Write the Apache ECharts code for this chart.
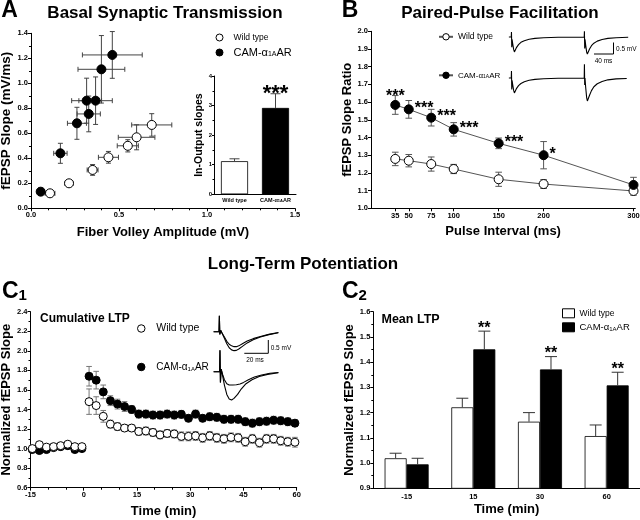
<!DOCTYPE html>
<html><head><meta charset="utf-8">
<script src="https://cdn.jsdelivr.net/npm/echarts@6/dist/echarts.min.js"></script>
<style>html,body{margin:0;padding:0;background:#fff}#c{width:640px;height:520px}</style>
</head><body><div id="c"></div><script>
// ---------- DATA ----------
// Panel A: basal synaptic transmission (input-output)
const aWtX = [0.108, 0.216, 0.35, 0.44, 0.55, 0.60, 0.686];
const aWtY = [0.12, 0.20, 0.307, 0.408, 0.50, 0.568, 0.667];
const aWtXErr = [0.028, 0.023, 0.031, 0.057, 0.06, 0.104, 0.114];
const aWtYErr = [0.013, 0.025, 0.043, 0.047, 0.049, 0.1, 0.09];
const aCamX = [0.055, 0.167, 0.261, 0.328, 0.316, 0.367, 0.40, 0.462];
const aCamY = [0.133, 0.44, 0.68, 0.755, 0.861, 0.861, 1.112, 1.227];
const aCamXErr = [0.02, 0.038, 0.054, 0.066, 0.085, 0.095, 0.133, 0.17];
const aCamYErr = [0.03, 0.08, 0.128, 0.143, 0.18, 0.19, 0.27, 0.187];
// Panel A inset: input-output slopes
const insetCats = ['Wild type', 'CAM'];
const insetVals = [1.12, 2.92];
const insetErr = [0.08, 0.48];
const insetStars = ['', '***'];
// Panel B: paired-pulse facilitation
const bIntervals = [35, 50, 75, 100, 150, 200, 300];
const bWt = [1.279, 1.269, 1.25, 1.222, 1.164, 1.137, 1.098];
const bWtErr = [0.038, 0.035, 0.04, 0.026, 0.04, 0.025, 0.024];
const bCam = [1.584, 1.559, 1.512, 1.446, 1.367, 1.30, 1.132];
const bCamErr = [0.053, 0.05, 0.047, 0.038, 0.03, 0.077, 0.043];
const bStars = ['***', '***', '***', '***', '***', '*', ''];
// Panel B example traces (time ms, mV)
const bTraceWt = [[8,0],[13,0],[13.4,0.22],[14,-0.45],[14.6,-0.1],[16,-0.3],[18,-0.55],[19.5,-0.65],[21,-0.6],[24,-0.45],[28,-0.33],[33,-0.23],[40,-0.16],[50,-0.1],[62,-0.06],[80,-0.03],[110,-0.01],[164,0],[164.4,0.25],[165,-0.5],[165.6,-0.1],[167,-0.35],[169,-0.65],[170.5,-0.74],[172,-0.7],[175,-0.52],[179,-0.38],[184,-0.27],[191,-0.18],[201,-0.11],[213,-0.06],[230,-0.03],[255,-0.01]];
const bTraceCam = [[8,0],[13,0],[13.4,0.3],[14,-0.5],[14.6,-0.1],[16,-0.3],[18,-0.55],[19.5,-0.65],[21,-0.6],[24,-0.45],[28,-0.33],[33,-0.24],[40,-0.16],[50,-0.1],[62,-0.06],[80,-0.03],[110,-0.01],[164,0],[164.4,0.6],[165,-0.3],[165.6,0],[167,-0.4],[169,-0.85],[170.5,-1.0],[172,-0.96],[175,-0.75],[179,-0.55],[184,-0.38],[191,-0.25],[201,-0.15],[213,-0.08],[230,-0.04],[252,-0.02]];
// Panel C1: cumulative LTP
const c1Time = [-14.5,-12.5,-10.5,-8.5,-6.5,-4.5,-2.5,-0.5,1.5,3.5,5.5,7.5,9.5,11.5,13.5,15.5,17.5,19.5,21.5,23.5,25.5,27.5,29.5,31.5,33.5,35.5,37.5,39.5,41.5,43.5,45.5,47.5,49.5,51.5,53.5,55.5,57.5,59.5];
const c1Wt = [1.0,1.04,1.015,1.02,1.03,1.045,1.02,1.02,1.48,1.44,1.33,1.25,1.225,1.21,1.21,1.175,1.18,1.165,1.14,1.155,1.15,1.125,1.125,1.13,1.11,1.13,1.11,1.10,1.115,1.11,1.07,1.10,1.06,1.10,1.10,1.08,1.07,1.065];
const c1WtErr = [0.01,0.01,0.01,0.01,0.01,0.01,0.01,0.01,0.13,0.09,0.06,0.04,0.04,0.035,0.035,0.04,0.04,0.04,0.04,0.04,0.04,0.045,0.045,0.045,0.045,0.045,0.045,0.045,0.045,0.045,0.045,0.045,0.045,0.045,0.045,0.045,0.045,0.05];
const c1Cam = [0.99,0.98,0.99,1.01,1.02,1.03,0.99,1.0,1.74,1.70,1.58,1.49,1.455,1.43,1.40,1.353,1.353,1.343,1.343,1.353,1.343,1.35,1.31,1.353,1.31,1.326,1.32,1.30,1.30,1.30,1.275,1.26,1.275,1.28,1.29,1.285,1.275,1.26];
const c1CamErr = [0.01,0.01,0.01,0.01,0.01,0.01,0.01,0.01,0.1,0.09,0.07,0.05,0.05,0.05,0.04,0.04,0.04,0.04,0.04,0.04,0.04,0.04,0.035,0.04,0.035,0.04,0.04,0.04,0.04,0.04,0.04,0.04,0.04,0.04,0.04,0.04,0.04,0.035];
// Panel C1 example traces (time ms, mV): baseline and post-LTP
const c1TraceWtPre = [[3,0],[7.5,0],[7.8,0.6],[8.2,-0.1],[9,0.05],[10,-0.05],[12,-0.2],[14,-0.36],[16,-0.47],[18,-0.53],[20,-0.56],[22,-0.56],[24,-0.53],[27,-0.45],[31,-0.35],[36,-0.26],[42,-0.18],[49,-0.1],[57,-0.03]];
const c1TraceWtPost = [[3,0],[7.5,0],[7.8,0.6],[8.2,-0.1],[9,0.05],[10,-0.05],[12,-0.25],[14,-0.45],[16,-0.6],[18,-0.68],[20,-0.71],[22,-0.7],[24,-0.65],[27,-0.55],[31,-0.42],[36,-0.3],[42,-0.2],[49,-0.11],[57,-0.04]];
const c1TraceCamPre = [[3,0],[8,0],[8.3,0.8],[8.7,-0.4],[9.3,0.1],[10.5,-0.1],[12,-0.3],[14,-0.45],[16,-0.5],[19,-0.5],[22,-0.49],[25,-0.46],[28,-0.4],[32,-0.3],[37,-0.2],[43,-0.12],[50,-0.06],[57,-0.03]];
const c1TraceCamPost = [[3,0],[8,0],[8.3,0.8],[8.7,-0.4],[9.3,0.1],[10.5,-0.15],[12,-0.5],[14,-0.85],[16,-1.02],[18,-1.06],[20,-1.0],[23,-0.85],[26,-0.65],[30,-0.45],[35,-0.3],[41,-0.18],[48,-0.1],[57,-0.04]];
// Panel C2: mean LTP
const c2Cats = ['-15', '15', '30', '60'];
const c2Wt = [1.019, 1.221, 1.164, 1.107];
const c2WtErr = [0.02, 0.036, 0.036, 0.044];
const c2Cam = [0.995, 1.451, 1.371, 1.308];
const c2CamErr = [0.024, 0.072, 0.051, 0.052];
const c2Stars = ['', '**', '**', '**'];

// ---------- HELPERS ----------
const FF = "'Liberation Sans', Arial, Helvetica, sans-serif";
const camRich = 'CAM-α{s|1A}AR';
function legendFmt(n){ return n.endsWith('CAM') ? camRich : 'Wild type'; }

function valAxis(grid, o){
  return Object.assign({
    type:'value', gridIndex:grid,
    axisLine:{show:true, onZero:false, lineStyle:{color:'#000', width:1}},
    axisTick:{show:true, length:3, lineStyle:{color:'#000', width:1}},
    minorTick:{show:false},
    splitLine:{show:false},
    axisLabel:{color:'#000', fontSize:7.5, fontWeight:'bold', fontFamily:FF, margin:3},
    nameLocation:'middle',
    nameTextStyle:{color:'#000', fontSize:13, fontWeight:'bold', fontFamily:FF}
  }, o);
}
function hiddenAxis(grid, min, max){ return {type:'value', gridIndex:grid, min, max, show:false}; }

function xyErr(grid, xs, ys, xe, ye, color, cap, z){
  return {
    type:'custom', xAxisIndex:grid, yAxisIndex:grid, z:z||1, silent:true,
    data: xs.map((x,i)=>[x, ys[i], xe ? xe[i] : 0, ye ? ye[i] : 0]),
    renderItem:(p, api)=>{
      const x=api.value(0), y=api.value(1), ex=api.value(2), ey=api.value(3);
      const st={stroke:color, lineWidth:1}; const ch=[];
      if (ey>0){
        const a=api.coord([x,y+ey]), b=api.coord([x,y-ey]);
        ch.push({type:'line', shape:{x1:a[0],y1:a[1],x2:b[0],y2:b[1]}, style:st});
        ch.push({type:'line', shape:{x1:a[0]-cap,y1:a[1],x2:a[0]+cap,y2:a[1]}, style:st});
        ch.push({type:'line', shape:{x1:b[0]-cap,y1:b[1],x2:b[0]+cap,y2:b[1]}, style:st});
      }
      if (ex>0){
        const a=api.coord([x-ex,y]), b=api.coord([x+ex,y]);
        ch.push({type:'line', shape:{x1:a[0],y1:a[1],x2:b[0],y2:b[1]}, style:st});
        ch.push({type:'line', shape:{x1:a[0],y1:a[1]-cap,x2:a[0],y2:a[1]+cap}, style:st});
        ch.push({type:'line', shape:{x1:b[0],y1:b[1]-cap,x2:b[0],y2:b[1]+cap}, style:st});
      }
      return {type:'group', children:ch};
    }
  };
}
function barErr(grid, vals, errs, stars, side, gapFrac, color, cap, starSize, starLift){
  return {
    type:'custom', xAxisIndex:grid, yAxisIndex:grid, z:3, silent:true,
    data: vals.map((v,i)=>[i, v, errs[i]]),
    renderItem:(p, api)=>{
      const i=api.value(0), v=api.value(1), e=api.value(2);
      const cw=api.size([1,0])[0];
      const bw = side===0 ? 0 : cw*(1-gapFrac)/2;
      const top=api.coord([i,v]), tip=api.coord([i,v+e]);
      const x=top[0]+side*bw/2;
      const st={stroke:color, lineWidth:1};
      const ch=[
        {type:'line', shape:{x1:x,y1:top[1],x2:x,y2:tip[1]}, style:st},
        {type:'line', shape:{x1:x-cap,y1:tip[1],x2:x+cap,y2:tip[1]}, style:st}
      ];
      const s=stars[i];
      if (s) ch.push({type:'text', style:{text:s, x:x, y:tip[1]-starLift, align:'center', verticalAlign:'middle',
        fontSize:starSize, fontWeight:'bold', fontFamily:FF, fill:'#000'}});
      return {type:'group', children:ch};
    }
  };
}
function traceSeries(grid, data){
  return {type:'line', xAxisIndex:grid, yAxisIndex:grid, data, showSymbol:false, symbol:'none', silent:true,
    lineStyle:{color:'#000', width:1.1}, animation:false};
}

const openStyle = {color:'#fff', borderColor:'#000', borderWidth:1, opacity:1};
const fillStyle = {color:'#000', borderColor:'#000', borderWidth:1, opacity:1};

// ---------- OPTION ----------
const grids = [
  {left:31, top:33.3, width:264, height:175},        //0 A
  {left:214, top:76, width:82, height:118.3},        //1 inset
  {left:371, top:31.3, width:264.3, height:177},     //2 B
  {left:505, top:25.5, width:125.6, height:39.1},    //3 B trace WT
  {left:505, top:61.9, width:125.6, height:46},      //4 B trace CAM
  {left:30.5, top:311.7, width:266.2, height:176},   //5 C1
  {left:210, top:313, width:84, height:45.4},        //6 C1 trace WT
  {left:210, top:347.7, width:84, height:58.7},      //7 C1 trace CAM
  {left:373.3, top:311.7, width:266.7, height:176.6} //8 C2
].map(g=>Object.assign({outerBoundsMode:'none', containLabel:false}, g));

const xAxis = [
  valAxis(0,{min:0, max:1.5, interval:0.5, minorTick:{show:true, splitNumber:5, length:2, lineStyle:{color:'#000'}},
    axisLabel:{color:'#000', fontSize:7.5, fontWeight:'bold', fontFamily:FF, margin:3, formatter:v=>v.toFixed(1)},
    name:'Fiber Volley Amplitude (mV)', nameGap:18}),
  {type:'category', gridIndex:1, data:insetCats,
    axisLine:{show:true, lineStyle:{color:'#000'}}, axisTick:{show:false},
    axisLabel:{color:'#000', fontSize:5.5, fontWeight:'bold', fontFamily:FF, margin:3, interval:0,
      formatter:v=>v==='CAM'?camRich:v, rich:{s:{fontSize:4, fontWeight:'bold', fontFamily:FF, verticalAlign:'bottom', padding:[2,0,0,0]}}}},
  valAxis(2,{min:8, max:302, name:'Pulse Interval (ms)', nameGap:17,
    axisTick:{show:true, length:3, customValues:bIntervals, lineStyle:{color:'#000'}},
    axisLabel:{color:'#000', fontSize:7.5, fontWeight:'bold', fontFamily:FF, margin:4, customValues:bIntervals}}),
  hiddenAxis(3, 0, 260), hiddenAxis(4, 0, 260),
  valAxis(5,{min:-15, max:60, interval:15, minorTick:{show:true, splitNumber:3, length:2, lineStyle:{color:'#000'}},
    name:'Time (min)', nameGap:17}),
  hiddenAxis(6, 0, 70), hiddenAxis(7, 0, 70),
  {type:'category', gridIndex:8, data:c2Cats,
    axisLine:{show:true, lineStyle:{color:'#000'}}, axisTick:{show:false},
    axisLabel:{color:'#000', fontSize:7.5, fontWeight:'bold', fontFamily:FF, margin:5},
    name:'Time (min)', nameLocation:'middle', nameGap:15,
    nameTextStyle:{color:'#000', fontSize:13, fontWeight:'bold', fontFamily:FF}}
];
const yAxis = [
  valAxis(0,{min:0, max:1.4, interval:0.2, minorTick:{show:true, splitNumber:2, length:2, lineStyle:{color:'#000'}},
    axisLabel:{color:'#000', fontSize:7.5, fontWeight:'bold', fontFamily:FF, margin:3, formatter:v=>v.toFixed(1)},
    name:'fEPSP Slope (mV/ms)', nameGap:17, nameTextStyle:{color:'#000', fontSize:13.5, fontWeight:'bold', fontFamily:FF}}),
  valAxis(1,{min:0, max:4, interval:1, minorTick:{show:true, splitNumber:2, length:1.5, lineStyle:{color:'#000'}},
    axisTick:{show:true, length:2, lineStyle:{color:'#000'}},
    axisLabel:{color:'#000', fontSize:6, fontWeight:'bold', fontFamily:FF, margin:2},
    name:'In-Output slopes', nameGap:9, nameTextStyle:{color:'#000', fontSize:10.5, fontWeight:'bold', fontFamily:FF}}),
  valAxis(2,{min:1, max:2, interval:0.1,
    axisLabel:{color:'#000', fontSize:7.5, fontWeight:'bold', fontFamily:FF, margin:3, formatter:v=>v.toFixed(1)},
    name:'fEPSP Slope Ratio', nameGap:13}),
  hiddenAxis(3, -1.2, 0.5), hiddenAxis(4, -1.3, 0.7),
  valAxis(5,{min:0.6, max:2.4, interval:0.2, minorTick:{show:true, splitNumber:2, length:2, lineStyle:{color:'#000'}},
    axisLabel:{color:'#000', fontSize:7.5, fontWeight:'bold', fontFamily:FF, margin:3, formatter:v=>v.toFixed(1)},
    name:'Normalized fEPSP Slope', nameGap:17}),
  hiddenAxis(6, -1.0, 0.7), hiddenAxis(7, -1.3, 0.9),
  valAxis(8,{min:0.9, max:1.6, interval:0.1, minorTick:{show:true, splitNumber:2, length:2, lineStyle:{color:'#000'}},
    axisLabel:{color:'#000', fontSize:7.5, fontWeight:'bold', fontFamily:FF, margin:3, formatter:v=>v.toFixed(1)},
    name:'Normalized fEPSP Slope', nameGap:17})
];

const series = [
  // A
  xyErr(0, aWtX, aWtY, aWtXErr, aWtYErr, '#444', 2.5, 1),
  xyErr(0, aCamX, aCamY, aCamXErr, aCamYErr, '#444', 2.5, 1),
  {type:'scatter', name:'A-WT', xAxisIndex:0, yAxisIndex:0, z:2, symbol:'circle', symbolSize:9,
    itemStyle:openStyle, data:aWtX.map((x,i)=>[x,aWtY[i]])},
  {type:'scatter', name:'A-CAM', xAxisIndex:0, yAxisIndex:0, z:2, symbol:'circle', symbolSize:9,
    itemStyle:fillStyle, data:aCamX.map((x,i)=>[x,aCamY[i]])},
  // inset
  {type:'bar', name:'inset', xAxisIndex:1, yAxisIndex:1, barCategoryGap:'34%', data:insetVals,
    itemStyle:{color:p=>p.dataIndex===0?'#fff':'#000', borderColor:'#000', borderWidth:0.8}},
  barErr(1, insetVals, insetErr, insetStars, 0, 0.34, '#444', 5, 22, 0),
  // B
  xyErr(2, bIntervals, bWt, null, bWtErr, '#555', 3.3, 1),
  xyErr(2, bIntervals, bCam, null, bCamErr, '#555', 3.3, 1),
  {type:'line', name:'B-WT', xAxisIndex:2, yAxisIndex:2, z:2, symbol:'circle', symbolSize:9, showAllSymbol:true,
    lineStyle:{color:'#555', width:1}, itemStyle:openStyle, data:bIntervals.map((x,i)=>[x,bWt[i]])},
  {type:'line', name:'B-CAM', xAxisIndex:2, yAxisIndex:2, z:2, symbol:'circle', symbolSize:9, showAllSymbol:true,
    lineStyle:{color:'#555', width:1}, itemStyle:fillStyle,
    data:bIntervals.map((x,i)=>({value:[x,bCam[i]], label:{show:!!bStars[i], formatter:bStars[i],
      position: i===0 ? 'top' : 'right', distance: i===0 ? 0 : 1, offset: i===0 ? [0,5] : [0,-1],
      fontSize:16, fontWeight:'bold', fontFamily:FF, color:'#000'}}))},
  traceSeries(3, bTraceWt), traceSeries(4, bTraceCam),
  // C1
  xyErr(5, c1Time, c1Wt, null, c1WtErr, '#777', 2.8, 1),
  xyErr(5, c1Time, c1Cam, null, c1CamErr, '#777', 2.8, 1),
  {type:'scatter', name:'C1-CAM', xAxisIndex:5, yAxisIndex:5, z:2, symbol:'circle', symbolSize:8,
    itemStyle:fillStyle, data:c1Time.map((x,i)=>[x,c1Cam[i]])},
  {type:'scatter', name:'C1-WT', xAxisIndex:5, yAxisIndex:5, z:2, symbol:'circle', symbolSize:8,
    itemStyle:openStyle, data:c1Time.map((x,i)=>[x,c1Wt[i]])},
  traceSeries(6, c1TraceWtPre), traceSeries(6, c1TraceWtPost),
  traceSeries(7, c1TraceCamPre), traceSeries(7, c1TraceCamPost),
  // C2
  {type:'bar', name:'C2-WT', xAxisIndex:8, yAxisIndex:8, barGap:'0%', barCategoryGap:'34%', data:c2Wt,
    itemStyle:{color:'#fff', borderColor:'#000', borderWidth:0.8}},
  {type:'bar', name:'C2-CAM', xAxisIndex:8, yAxisIndex:8, barGap:'0%', barCategoryGap:'34%', data:c2Cam,
    itemStyle:{color:'#000', borderColor:'#000', borderWidth:0.8}},
  barErr(8, c2Wt, c2WtErr, ['', '', '', ''], -1, 0.34, '#333', 6, 16, 3),
  barErr(8, c2Cam, c2CamErr, c2Stars, 1, 0.34, '#333', 6, 16, 3)
];

function mkLegend(names, left, top, gap, iw, ih, sizes, icon){
  return {orient:'vertical', left, top, itemGap:gap, itemWidth:iw, itemHeight:ih, padding:0, selectedMode:false,
    formatter:legendFmt,
    itemStyle:{opacity:1, borderWidth:1},
    textStyle:{color:'#000', fontFamily:FF, fontSize:sizes[0],
      rich:{s:{fontSize:Math.round(sizes[1]*0.6), fontFamily:FF, verticalAlign:'bottom', padding:[3,0,0,0]}}},
    data:names.map((n,i)=>{ const d={name:n, textStyle:{fontSize:sizes[i]}}; if(icon) d.icon=icon; return d; })};
}
const legend = [
  mkLegend(['A-WT','A-CAM'], 215.5, 33, 5, 18, 7, [8.5, 11], 'circle'),
  mkLegend(['B-WT','B-CAM'], 438, 32.3, 30, 14, 8, [8.5, 8]),
  mkLegend(['C1-WT','C1-CAM'], 137, 323, 28, 20, 7.5, [10.5, 10], 'circle'),
  mkLegend(['C2-WT','C2-CAM'], 562, 308.3, 4, 12, 9, [8.5, 9.5], 'rect')
];

function ttl(text, x, y, size, align){
  return {text, left:x, top:y, padding:0, textAlign:align||'center', textVerticalAlign:'middle',
    textStyle:{color:'#000', fontSize:size, fontWeight:'bold', fontFamily:FF}};
}
const title = [
  ttl('A', 9.5, 11, 23),
  ttl('Basal Synaptic Transmission', 165, 13, 17),
  ttl('B', 350, 11, 23),
  ttl('Paired-Pulse Facilitation', 500, 13, 17),
  ttl('Long-Term Potentiation', 303, 264, 17),
  {text:'{c|C}{s|1}', left:2, top:292, padding:0, textAlign:'left', textVerticalAlign:'middle',
    textStyle:{rich:{c:{fontSize:23, fontWeight:'bold', fontFamily:FF, color:'#000'},
      s:{fontSize:15, fontWeight:'bold', fontFamily:FF, color:'#000', verticalAlign:'bottom', padding:[8,0,0,0]}}}},
  {text:'{c|C}{s|2}', left:342, top:292, padding:0, textAlign:'left', textVerticalAlign:'middle',
    textStyle:{rich:{c:{fontSize:23, fontWeight:'bold', fontFamily:FF, color:'#000'},
      s:{fontSize:15, fontWeight:'bold', fontFamily:FF, color:'#000', verticalAlign:'bottom', padding:[8,0,0,0]}}}},
  ttl('Cumulative LTP', 40, 318.5, 12, 'left'),
  ttl('Mean LTP', 381.5, 320, 12.5, 'left')
];

const lineSt = {stroke:'#000', lineWidth:1};
const smallText = (t, x, y, align)=>({type:'text', x, y, style:{text:t, fill:'#000', fontSize:6.5, fontFamily:FF, align:align||'left', verticalAlign:'middle'}, silent:true});
const graphic = [
  // B scale bar
  {type:'line', shape:{x1:613.5, y1:42.5, x2:613.5, y2:54}, style:lineSt, silent:true},
  {type:'line', shape:{x1:594, y1:54, x2:613.5, y2:54}, style:lineSt, silent:true},
  smallText('0.5 mV', 616, 49),
  smallText('40 ms', 603.5, 61.5, 'center'),
  // C1 scale bar
  {type:'line', shape:{x1:268.3, y1:340, x2:268.3, y2:353.3}, style:lineSt, silent:true},
  {type:'line', shape:{x1:244.3, y1:353.3, x2:268.3, y2:353.3}, style:lineSt, silent:true},
  smallText('0.5 mV', 270.7, 348),
  smallText('20 ms', 255, 360, 'center')
];

const chart = echarts.init(document.getElementById('c'), null, {renderer:'canvas'});
chart.setOption({backgroundColor:'#fff', animation:false, textStyle:{fontFamily:FF},
  title, legend, grid:grids, xAxis, yAxis, series, graphic, tooltip:{show:false}});
</script></body></html>
